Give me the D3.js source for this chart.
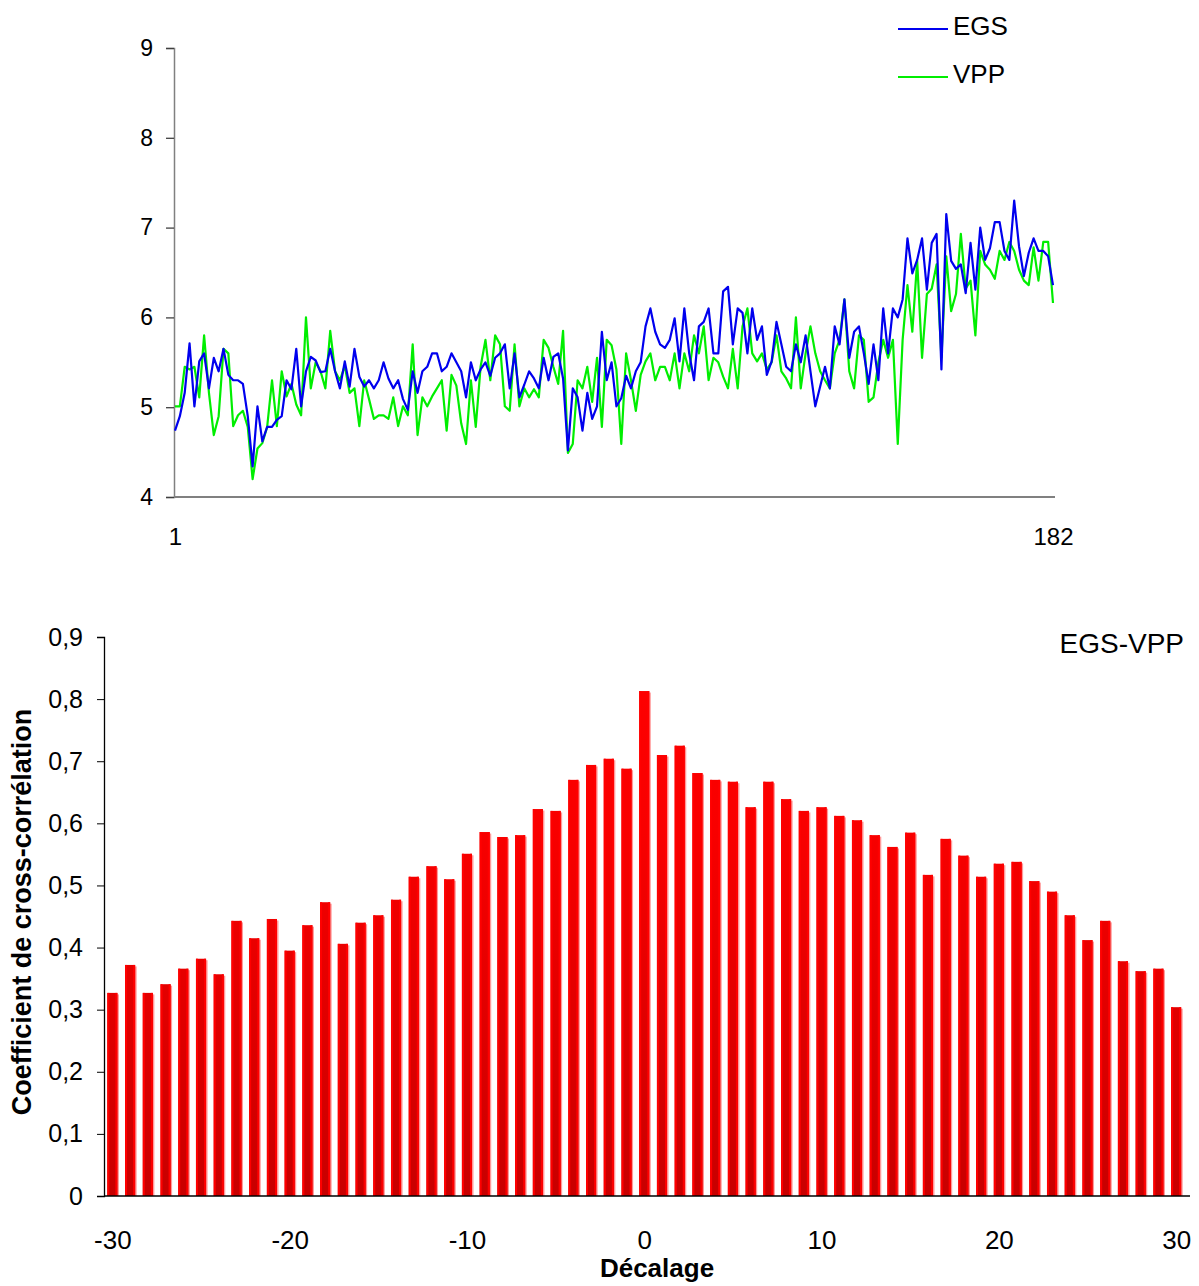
<!DOCTYPE html>
<html><head><meta charset="utf-8">
<script src="https://cdn.jsdelivr.net/npm/d3@7"></script>
<style>body{margin:0;background:#fff}svg{display:block}text{font-family:"Liberation Sans",Arial,sans-serif}</style>
</head><body>
<script>
const egs = [4.74,4.90,5.16,5.71,5.01,5.51,5.60,5.21,5.55,5.40,5.65,5.36,5.30,5.30,5.26,4.90,4.34,5.01,4.62,4.78,
4.78,4.86,4.90,5.30,5.20,5.65,5.01,5.40,5.56,5.52,5.39,5.40,5.65,5.40,5.21,5.51,5.23,5.65,5.34,5.23,
5.30,5.21,5.30,5.50,5.32,5.21,5.30,5.09,4.97,5.40,5.16,5.40,5.45,5.60,5.60,5.40,5.45,5.60,5.50,5.40,
5.11,5.50,5.30,5.42,5.50,5.35,5.55,5.60,5.70,5.21,5.60,5.11,5.25,5.40,5.32,5.21,5.55,5.30,5.56,5.60,
5.32,4.52,5.21,5.11,4.74,5.16,4.87,5.01,5.84,5.30,5.50,5.01,5.10,5.35,5.21,5.40,5.50,5.90,6.10,5.84,
5.70,5.66,5.75,5.99,5.51,6.10,5.60,5.30,5.90,5.95,6.10,5.60,5.60,6.29,6.34,5.70,6.10,6.05,5.60,6.10,
5.75,5.90,5.36,5.51,5.95,5.70,5.45,5.40,5.70,5.50,5.80,5.40,5.01,5.23,5.45,5.21,5.90,5.70,6.20,5.55,
5.84,5.90,5.60,5.26,5.70,5.30,6.10,5.60,6.10,6.00,6.20,6.88,6.49,6.64,6.88,6.31,6.83,6.93,5.42,7.15,
6.63,6.54,6.59,6.27,6.83,6.31,7.00,6.64,6.77,7.06,7.06,6.74,6.64,7.30,6.79,6.46,6.72,6.88,6.74,6.74,
6.68,6.36];
const vpp = [5.01,5.01,5.45,5.42,5.45,5.11,5.80,5.16,4.69,4.90,5.65,5.60,4.79,4.91,4.96,4.78,4.20,4.54,4.60,4.78,
5.30,4.79,5.40,5.12,5.26,5.03,4.91,6.00,5.21,5.50,5.40,5.21,5.85,5.40,5.30,5.46,5.16,5.21,4.79,5.30,
5.09,4.87,4.91,4.91,4.87,5.11,4.79,5.01,4.91,5.70,4.69,5.11,5.01,5.12,5.21,5.30,4.74,5.36,5.24,4.82,
4.59,5.30,4.78,5.45,5.75,5.30,5.80,5.70,5.01,4.96,5.70,5.01,5.21,5.11,5.20,5.11,5.75,5.66,5.45,5.26,
5.85,4.49,4.59,5.30,5.21,5.45,5.06,5.55,4.78,5.75,5.69,5.42,4.59,5.60,5.30,4.96,5.36,5.51,5.60,5.30,
5.45,5.45,5.30,5.60,5.21,5.60,5.40,5.80,5.60,5.90,5.30,5.55,5.50,5.34,5.21,5.65,5.21,5.90,6.10,5.60,
5.51,5.60,5.42,5.50,5.80,5.40,5.32,5.21,6.00,5.21,5.60,5.90,5.60,5.40,5.30,5.21,5.60,5.75,6.20,5.40,
5.21,5.80,5.75,5.06,5.11,5.50,5.75,5.55,5.75,4.59,5.75,6.36,5.84,6.63,5.55,6.26,6.32,6.59,5.55,6.68,
6.07,6.26,6.93,6.32,6.41,5.80,6.74,6.59,6.53,6.43,6.74,6.64,6.84,6.74,6.53,6.41,6.36,6.78,6.41,6.84,
6.84,6.16];
const seriesNames = ["EGS","VPP"];
const lineYTicks = [4,5,6,7,8,9];
const lineXTicks = [1,182];

const lags = d3.range(-30,31);
const corr = [0.327,0.372,0.327,0.341,0.366,0.382,0.357,0.443,0.415,0.446,0.395,0.436,0.473,0.406,0.440,0.452,0.477,0.514,0.531,0.510,
0.551,0.586,0.578,0.581,0.623,0.620,0.670,0.694,0.704,0.688,0.813,0.710,0.725,0.681,0.670,0.667,0.626,0.667,0.639,0.620,
0.626,0.612,0.605,0.581,0.562,0.585,0.517,0.575,0.548,0.514,0.535,0.538,0.507,0.490,0.452,0.412,0.443,0.378,0.362,0.366,0.304];
const barYTicks = [0,0.1,0.2,0.3,0.4,0.5,0.6,0.7,0.8,0.9];
const barXTicks = [-30,-20,-10,0,10,20,30];

const W=1199,H=1286;
const svg=d3.select("body").append("svg").attr("width",W).attr("height",H);

// ---------- Line chart ----------
const x1=d3.scaleLinear().domain([1,182]).range([175,1053]);
const y1=d3.scaleLinear().domain([4,9]).range([497,48]);
const g1=svg.append("g");
const yAx1=g1.append("g").attr("transform","translate(174,0)")
  .call(d3.axisLeft(y1).tickValues(lineYTicks).tickSize(8).tickPadding(13).tickFormat(d=>String(d)));
yAx1.select(".domain").attr("stroke","#808080").attr("stroke-width",1.5);
yAx1.selectAll(".tick line").attr("stroke","#404040").attr("stroke-width",1.3);
yAx1.selectAll("text").attr("font-size",23).attr("fill","#000");
const xAx1=g1.append("g").attr("transform","translate(0,497)")
  .call(d3.axisBottom(x1).tickValues(lineXTicks).tickSize(0).tickPadding(31).tickFormat(d=>String(d)));
xAx1.select(".domain").attr("stroke","#808080").attr("stroke-width",2).attr("d","M174,0H1055");
xAx1.selectAll("text").attr("font-size",24).attr("fill","#000");
const line=d3.line().x((d,i)=>x1(i+1)).y(d=>y1(d));
g1.append("path").datum(vpp).attr("d",line).attr("fill","none").attr("stroke","#00ee00").attr("stroke-width",2.2).attr("stroke-linejoin","round");
g1.append("path").datum(egs).attr("d",line).attr("fill","none").attr("stroke","#0000ee").attr("stroke-width",2.2).attr("stroke-linejoin","round");
// legend
const legColors=["#0000ee","#00ee00"];
seriesNames.forEach((n,i)=>{
  const yy=29+i*48;
  g1.append("line").attr("x1",898).attr("x2",948).attr("y1",yy).attr("y2",yy).attr("stroke",legColors[i]).attr("stroke-width",2.2);
  g1.append("text").attr("x",953).attr("y",yy+6).attr("font-size",26).text(n);
});

// ---------- Bar chart ----------
const x2=d3.scaleBand().domain(lags).range([103.5,1185]).paddingInner(0.43).paddingOuter(0.215);
const y2=d3.scaleLinear().domain([0,0.9]).range([1196,637]);
const defs=svg.append("defs");
const gr=defs.append("linearGradient").attr("id","barGrad").attr("gradientUnits","userSpaceOnUse")
  .attr("x1",0).attr("x2",0).attr("y1",y2(0.9)).attr("y2",y2(0));
gr.append("stop").attr("offset","0").attr("stop-color","#ff0000");
gr.append("stop").attr("offset","0.35").attr("stop-color","#f80000");
gr.append("stop").attr("offset","1").attr("stop-color","#c80000");
const g2=svg.append("g");
const bw=x2.bandwidth();
g2.selectAll("rect.sh").data(corr).join("rect").attr("class","sh")
  .attr("x",(d,i)=>x2(lags[i])+1.5).attr("y",d=>y2(d)+1.5).attr("width",bw).attr("height",d=>y2(0)-y2(d)-1.5)
  .attr("fill","#ff9a9a");
g2.selectAll("rect.bar").data(corr).join("rect").attr("class","bar")
  .attr("x",(d,i)=>x2(lags[i])).attr("y",d=>y2(d)).attr("width",bw).attr("height",d=>y2(0)-y2(d))
  .attr("fill","url(#barGrad)");
g2.selectAll("rect.edgeL").data(corr).join("rect").attr("class","edgeL")
  .attr("x",(d,i)=>x2(lags[i])).attr("y",d=>y2(d)).attr("width",2).attr("height",d=>y2(0)-y2(d)).attr("fill","#ff0000");
g2.selectAll("rect.edgeR").data(corr).join("rect").attr("class","edgeR")
  .attr("x",(d,i)=>x2(lags[i])+bw-2).attr("y",d=>y2(d)).attr("width",2).attr("height",d=>y2(0)-y2(d)).attr("fill","#ff0000");

const yAx2=g2.append("g").attr("transform","translate(104,0)")
  .call(d3.axisLeft(y2).tickValues(barYTicks).tickSize(7).tickPadding(14).tickFormat(d=>d===0?"0":d3.format(".1f")(d).replace(".",",")));
yAx2.select(".domain").attr("stroke","#000").attr("stroke-width",1.3);
yAx2.selectAll(".tick line").attr("stroke","#000");
yAx2.selectAll("text").attr("font-size",25).attr("fill","#000");

const xAx2=g2.append("g").attr("transform","translate(0,1196)")
  .call(d3.axisBottom(d3.scaleLinear().domain([-30,30]).range([x2(-30)+bw/2,x2(30)+bw/2])).tickValues(barXTicks).tickSize(0).tickPadding(35).tickFormat(d=>String(d)));
xAx2.select(".domain").attr("stroke","#000").attr("stroke-width",1.3).attr("d","M104,0H1190");
xAx2.selectAll("text").attr("font-size",26).attr("fill","#000");

svg.append("text").attr("transform","translate(31,912) rotate(-90)").attr("text-anchor","middle")
  .attr("font-size",27).attr("font-weight","bold").text("Coefficient de cross-corrélation");
svg.append("text").attr("x",657).attr("y",1277).attr("text-anchor","middle")
  .attr("font-size",26).attr("font-weight","bold").text("Décalage");
svg.append("text").attr("x",1184).attr("y",653).attr("text-anchor","end")
  .attr("font-size",28).text("EGS-VPP");
</script>
</body></html>
